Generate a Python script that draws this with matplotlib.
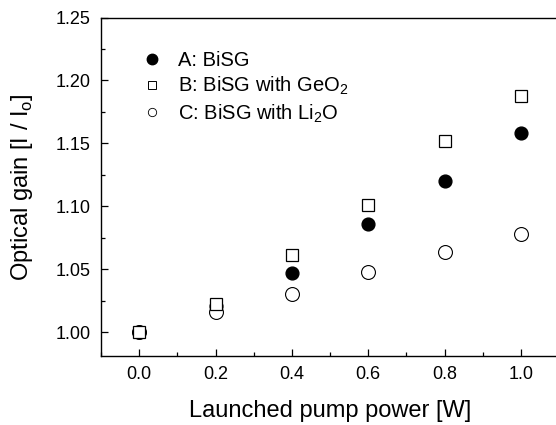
import matplotlib.pyplot as plt
from matplotlib.lines import Line2D
from matplotlib.ticker import MultipleLocator

plt.rcParams['font.family'] = ['Liberation Sans', 'DejaVu Sans']

# data
power = [0.0, 0.2, 0.4, 0.6, 0.8, 1.0]
gain_a = [1.000, 1.021, 1.047, 1.086, 1.120, 1.158]
gain_b = [1.000, 1.022, 1.061, 1.101, 1.152, 1.188]
gain_c = [1.000, 1.016, 1.030, 1.048, 1.064, 1.078]

labels = ['A: BiSG',
          r'B: BiSG with GeO$_\mathregular{2}$',
          r'C: BiSG with Li$_\mathregular{2}$O']

fig = plt.figure(figsize=(5.56, 4.25), dpi=100)
ax = fig.add_axes([0.1817, 0.1624, 0.8237, 0.7964])

ax.plot(power, gain_a, 'o', color='black', ms=9.2, zorder=3)
ax.plot(power, gain_c, 'o', mfc='white', mec='black', mew=0.8, ms=10, zorder=3)
ax.plot(power, gain_b, 's', mfc='white', mec='black', mew=0.9, ms=8.6, zorder=4)

ax.set_xlim(-0.1, 1.1)
ax.set_ylim(0.981, 1.25)
ax.xaxis.set_major_locator(MultipleLocator(0.2))
ax.xaxis.set_minor_locator(MultipleLocator(0.1))
ax.yaxis.set_major_locator(MultipleLocator(0.05))
ax.yaxis.set_minor_locator(MultipleLocator(0.025))
ax.xaxis.set_major_formatter(lambda v, p: f'{v:.1f}')
ax.yaxis.set_major_formatter(lambda v, p: f'{v:.2f}')
ax.tick_params(which='both', direction='in', labelsize=13, width=0.9)
ax.tick_params(which='major', length=5, pad=7.5)
ax.tick_params(which='minor', length=3)
for s in ax.spines.values():
    s.set_linewidth(1.0)

ax.set_xlabel('Launched pump power [W]', fontsize=17, labelpad=12)
ax.set_ylabel(r'Optical gain [I / I$_\mathregular{o}$]', fontsize=17, labelpad=15)

handles = [
    Line2D([], [], ls='', marker='o', color='black', ms=7.5),
    Line2D([], [], ls='', marker='s', mfc='white', mec='black', mew=0.7, ms=5.5),
    Line2D([], [], ls='', marker='o', mfc='white', mec='black', mew=0.6, ms=6),
]
ax.legend(handles, labels, loc='upper left', bbox_to_anchor=(0.05, 0.955),
          frameon=False, fontsize=14.5, handlelength=1.0, handletextpad=0.8,
          labelspacing=0.25)

fig.savefig('out.png', dpi=100)
